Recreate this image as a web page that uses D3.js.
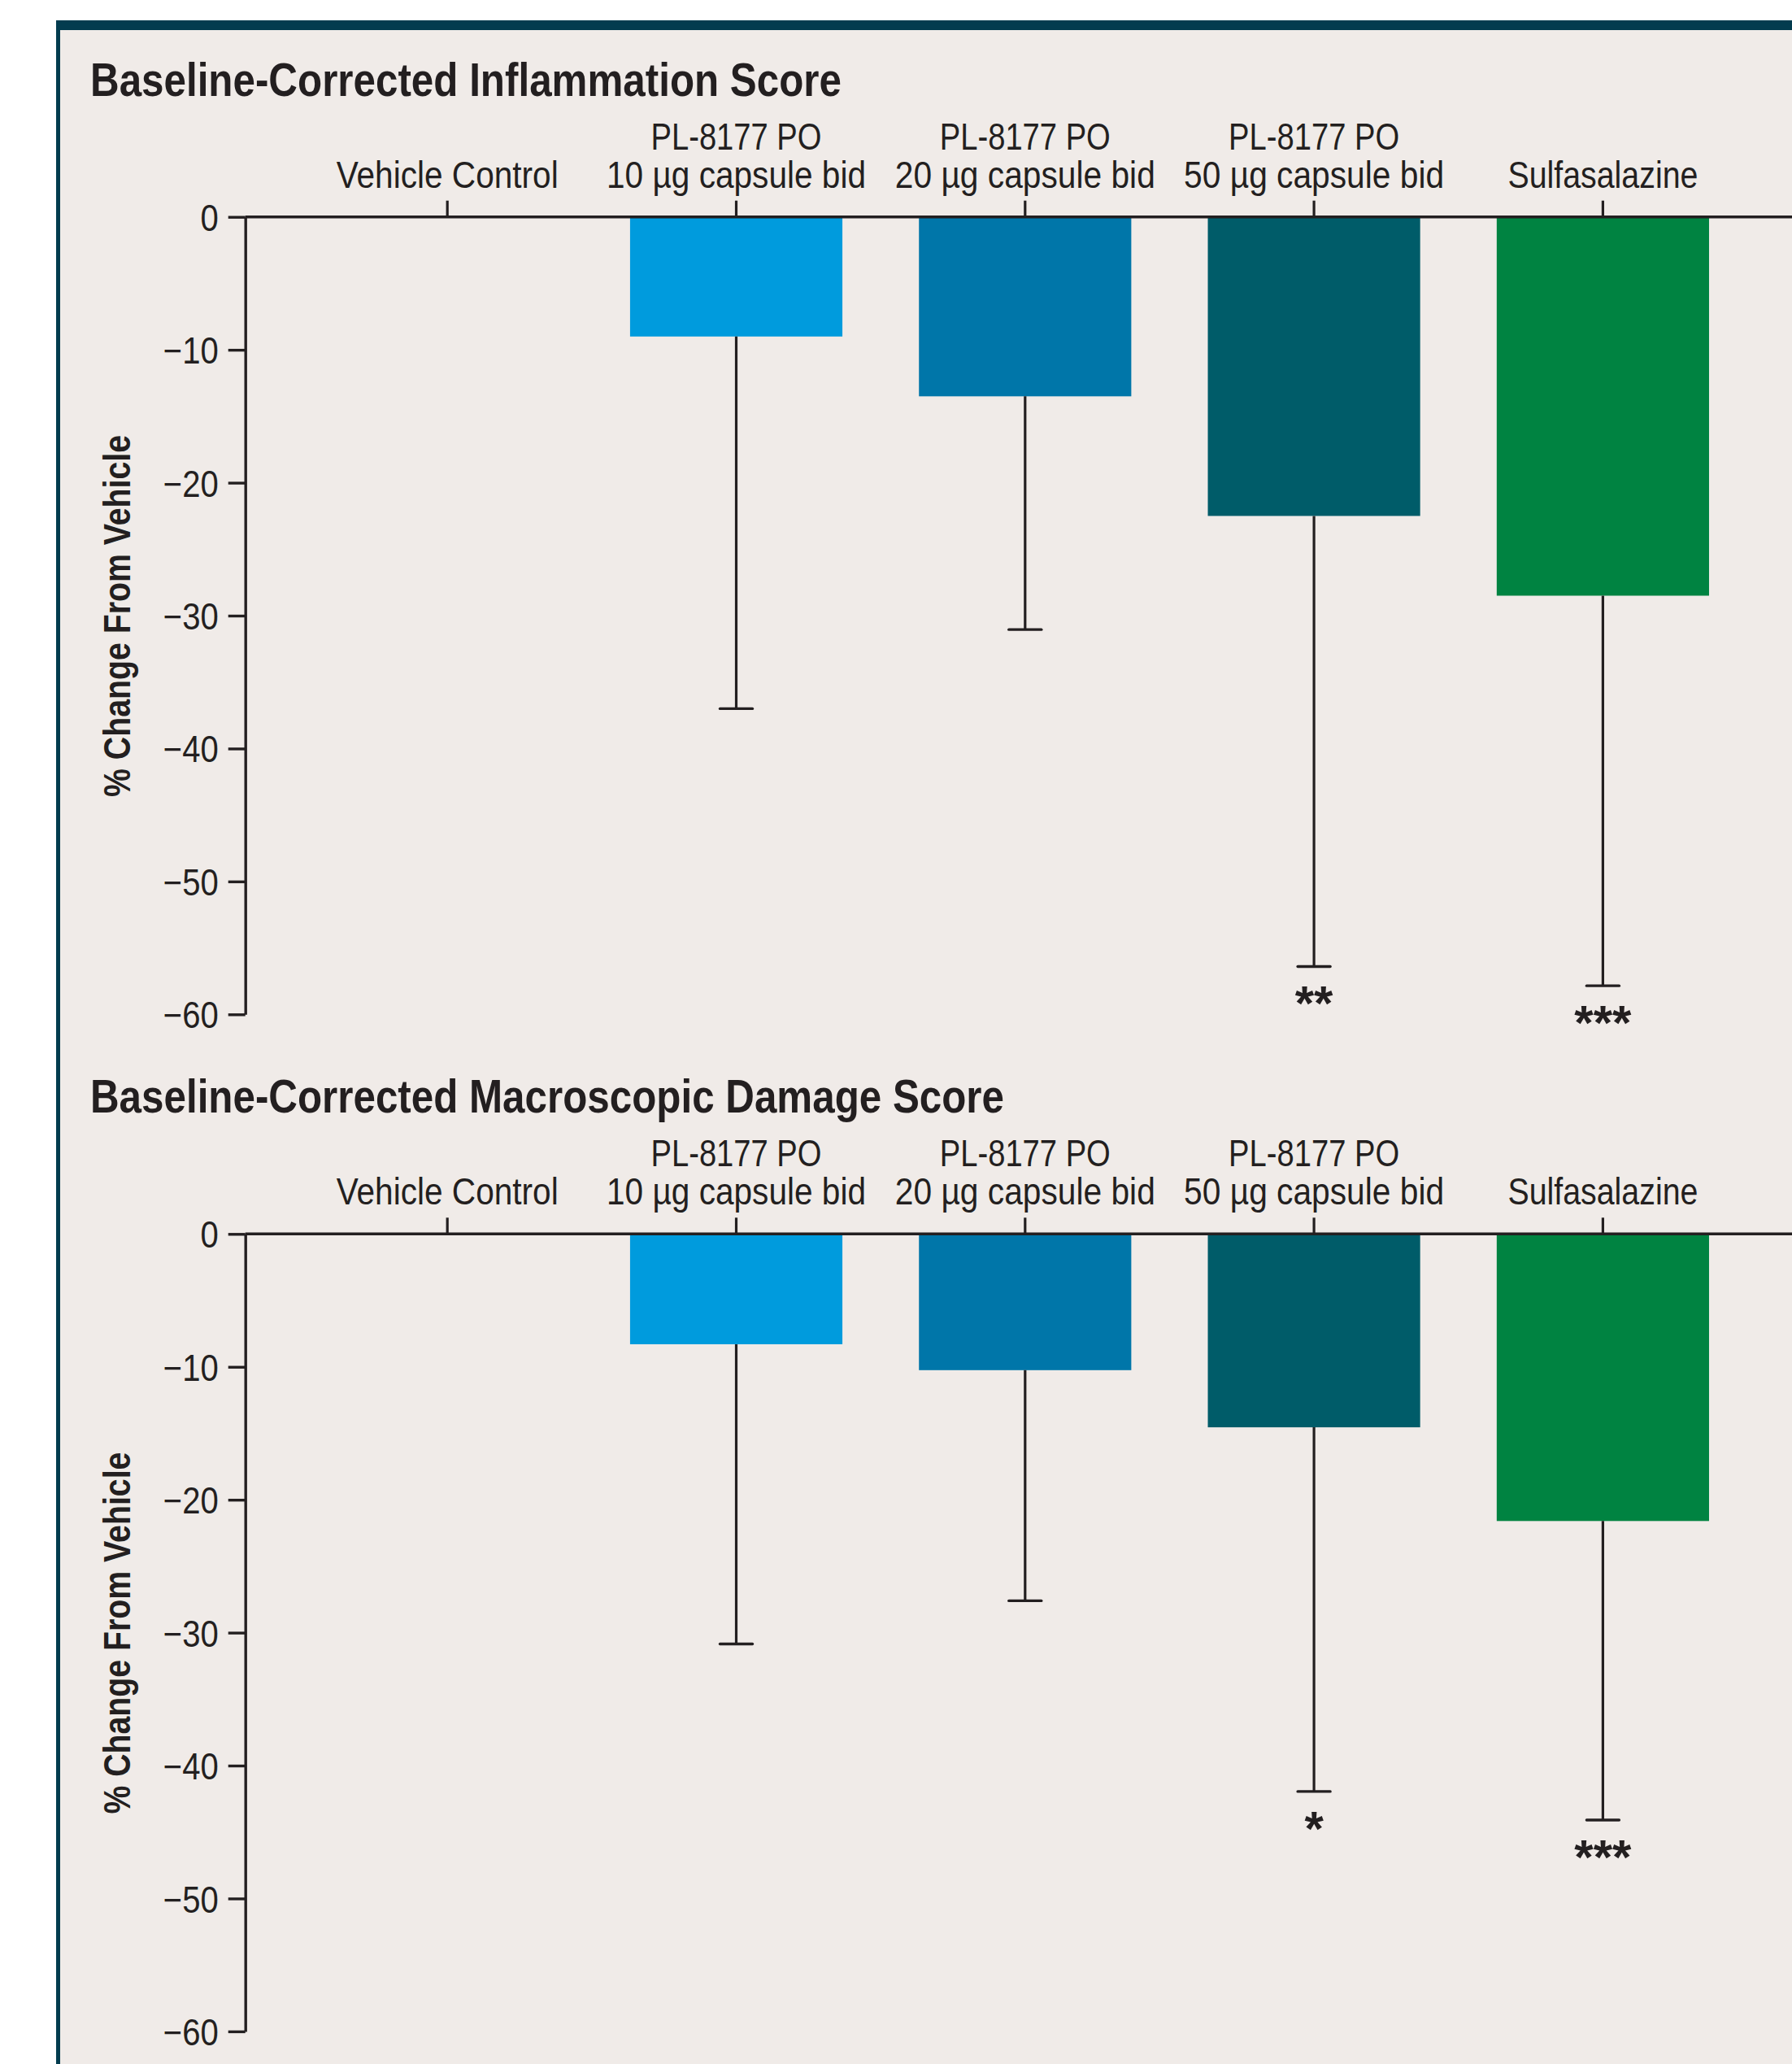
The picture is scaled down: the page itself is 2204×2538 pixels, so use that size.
<!DOCTYPE html>
<html><head><meta charset="utf-8">
<script src="https://cdn.jsdelivr.net/npm/d3@7"></script>
<style>
body{margin:0;background:#fff}
svg{display:block}
text{font-family:"Liberation Sans",Arial,sans-serif;fill:#231f20}
</style>
</head><body>
<svg id="c" width="2204" height="2538"></svg>
<script>
// ---------- data ----------
const categories = ["Vehicle Control", "PL-8177 PO 10 µg capsule bid", "PL-8177 PO 20 µg capsule bid", "PL-8177 PO 50 µg capsule bid", "Sulfasalazine"];
const labelLine1 = ["", "PL-8177 PO", "PL-8177 PO", "PL-8177 PO", ""];
const labelLine2 = ["Vehicle Control", "10 µg capsule bid", "20 µg capsule bid", "50 µg capsule bid", "Sulfasalazine"];

const inflammationTitle = "Baseline-Corrected Inflammation Score";
const inflammationMean = [0, -9.0, -13.5, -22.5, -28.5];
const inflammationErr = [0, 28.0, 17.55, 33.9, 29.35];
const inflammationSig = ["", "", "", "**", "***"];

const damageTitle = "Baseline-Corrected Macroscopic Damage Score";
const damageMean = [0, -8.3, -10.25, -14.55, -21.6];
const damageErr = [0, 22.55, 17.35, 27.4, 22.5];
const damageSig = ["", "", "", "*", "***"];

const yTicks = [0, -10, -20, -30, -40, -50, -60];
const yLabel = "% Change From Vehicle";
const barColors = ["#7f7f7f", "#009bdd", "#0076a9", "#005c69", "#008341"];

// ---------- layout ----------
const W = 2204, H = 2538;
const INK = "#231f20";
const svg = d3.select("#c");

svg.append("rect").attr("x", 74).attr("y", 37).attr("width", W - 74).attr("height", H - 37).attr("fill", "#f0ebe8");
svg.append("rect").attr("x", 69).attr("y", 25).attr("width", 5).attr("height", H - 25).attr("fill", "#033c4f");
svg.append("rect").attr("x", 69).attr("y", 25).attr("width", W - 69).attr("height", 12).attr("fill", "#033c4f");

const x = d3.scaleBand().domain(categories)
  .range([372.55, 2149.05]).paddingInner(0.265).paddingOuter(0.1325);

const labelWidths = {
  "Vehicle Control": 273, "PL-8177 PO": 210, "10 µg capsule bid": 319,
  "20 µg capsule bid": 320, "50 µg capsule bid": 320, "Sulfasalazine": 234
};

function fit(sel, w) { sel.attr("textLength", w).attr("lengthAdjust", "spacingAndGlyphs"); }

function panel(y0, title, titleW, mean, err, sig) {
  const y = d3.scaleLinear().domain([0, -60]).range([y0, y0 + 980.6]);
  const g = svg.append("g");

  // title
  g.append("text").attr("x", 111).attr("y", y0 - 149)
    .attr("font-size", 58).attr("font-weight", "bold").text(title).call(fit, titleW);

  // bars
  g.selectAll("rect.bar").data(categories).join("rect").attr("class", "bar")
    .attr("x", d => x(d)).attr("width", x.bandwidth())
    .attr("y", y(0)).attr("height", (d, i) => y(mean[i]) - y(0))
    .attr("fill", (d, i) => barColors[i]);

  // error bars
  const eb = categories.map((c, i) => ({c, i})).filter(d => err[d.i] > 0);
  const cx = d => x(d.c) + x.bandwidth() / 2;
  g.selectAll("line.ev").data(eb).join("line").attr("class", "ev")
    .attr("x1", cx).attr("x2", cx)
    .attr("y1", d => y(mean[d.i])).attr("y2", d => y(mean[d.i] - err[d.i]))
    .attr("stroke", INK).attr("stroke-width", 3.2);
  g.selectAll("line.ec").data(eb).join("line").attr("class", "ec")
    .attr("x1", d => cx(d) - 20).attr("x2", d => cx(d) + 20)
    .attr("y1", d => y(mean[d.i] - err[d.i])).attr("y2", d => y(mean[d.i] - err[d.i]))
    .attr("stroke", INK).attr("stroke-width", 3.4).attr("stroke-linecap", "round");

  // significance
  g.selectAll("text.sig").data(eb.filter(d => sig[d.i])).join("text").attr("class", "sig")
    .attr("x", cx).attr("y", d => y(mean[d.i] - err[d.i]) + 66)
    .attr("text-anchor", "middle").attr("font-size", 60).attr("font-weight", "bold")
    .text(d => sig[d.i]);

  // y axis
  const ya = d3.axisLeft(y).tickValues(yTicks).tickSize(21).tickSizeOuter(0).tickPadding(12)
    .tickFormat(d => d === 0 ? "0" : "\u2212" + Math.abs(d));
  const gy = g.append("g").attr("transform", "translate(301.7,0)").call(ya);
  gy.select(".domain").attr("stroke", INK).attr("stroke-width", 3.4);
  gy.selectAll(".tick line").attr("stroke", INK).attr("stroke-width", 3.4);
  gy.selectAll(".tick text").attr("font-size", 46).attr("fill", INK)
    .attr("font-family", "Liberation Sans, Arial, sans-serif")
    .attr("dy", "0.36em")
    .each(function () {
      const w = this.getComputedTextLength();
      d3.select(this).attr("textLength", w * 0.87).attr("lengthAdjust", "spacingAndGlyphs");
    });

  // y label
  g.append("text").attr("transform", `translate(160,${y0 + 490.8}) rotate(-90)`)
    .attr("text-anchor", "middle").attr("font-size", 46).attr("font-weight", "bold")
    .text(yLabel).call(fit, 445);

  // top category axis
  const xa = d3.axisTop(x).tickSize(20).tickSizeOuter(0).tickFormat("");
  const gx = g.append("g").attr("transform", `translate(0,${y0})`).call(xa);
  gx.select(".domain").remove();
  gx.selectAll(".tick line").attr("stroke", INK).attr("stroke-width", 3.2);
  g.append("line").attr("x1", 301.7).attr("x2", W).attr("y1", y0).attr("y2", y0)
    .attr("stroke", INK).attr("stroke-width", 3.6);

  const lab = g.selectAll("g.lab").data(categories).join("g").attr("class", "lab")
    .attr("transform", d => `translate(${x(d) + x.bandwidth() / 2},${y0})`);
  lab.filter((d, i) => labelLine1[i]).append("text")
    .attr("y", -83).attr("text-anchor", "middle").attr("font-size", 47)
    .text((d) => labelLine1[categories.indexOf(d)])
    .each(function () { d3.select(this).call(fit, labelWidths[this.textContent]); });
  lab.append("text")
    .attr("y", -36).attr("text-anchor", "middle").attr("font-size", 47)
    .text((d, i) => labelLine2[i])
    .each(function () { d3.select(this).call(fit, labelWidths[this.textContent]); });
}

panel(266.7, inflammationTitle, 924, inflammationMean, inflammationErr, inflammationSig);
panel(1517.3, damageTitle, 1124, damageMean, damageErr, damageSig);
</script>
</body></html>
